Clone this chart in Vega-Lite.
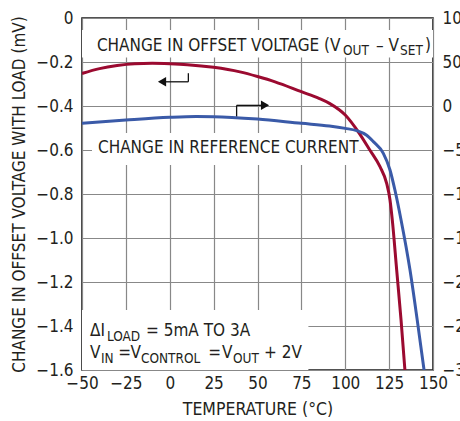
{
  "$schema": "https://vega.github.io/schema/vega-lite/v6.json",
  "width": 351,
  "height": 352,
  "autosize": {"type": "none"},
  "padding": {"left": 82, "top": 18, "right": 27, "bottom": 51},
  "background": "white",
  "config": {
    "view": {"stroke": "#1a1a1a", "strokeWidth": 1.6},
    "font": "'DejaVu Sans Condensed', 'Roboto Condensed', 'Arial Narrow', 'Liberation Sans', sans-serif",
    "axis": {
      "labelFont": "'DejaVu Sans Condensed', 'Roboto Condensed', 'Arial Narrow', 'Liberation Sans', sans-serif",
      "labelFontSize": 17,
      "labelColor": "#231f20",
      "titleFont": "'DejaVu Sans Condensed', 'Roboto Condensed', 'Arial Narrow', 'Liberation Sans', sans-serif",
      "titleFontSize": 17,
      "titleFontWeight": "normal",
      "titleColor": "#231f20",
      "gridColor": "#888888",
      "gridWidth": 1.2,
      "gridOpacity": 1,
      "domain": false,
      "ticks": false,
      "labelFlush": false,
      "labelOverlap": false
    },
    "text": {"font": "'DejaVu Sans Condensed', 'Roboto Condensed', 'Arial Narrow', 'Liberation Sans', sans-serif", "color": "#231f20"}
  },
  "datasets": {
    "offset": [
      {"t": -50, "mv": -0.252},
      {"t": -40, "mv": -0.23},
      {"t": -30, "mv": -0.216},
      {"t": -20, "mv": -0.208},
      {"t": -10, "mv": -0.206},
      {"t": 0, "mv": -0.208},
      {"t": 10, "mv": -0.212},
      {"t": 25, "mv": -0.224},
      {"t": 40, "mv": -0.245},
      {"t": 50, "mv": -0.266},
      {"t": 60, "mv": -0.29},
      {"t": 75, "mv": -0.335},
      {"t": 85, "mv": -0.365},
      {"t": 91, "mv": -0.388},
      {"t": 100, "mv": -0.441},
      {"t": 108, "mv": -0.524},
      {"t": 114, "mv": -0.6},
      {"t": 119.8, "mv": -0.676},
      {"t": 123.6, "mv": -0.752},
      {"t": 125.5, "mv": -0.827},
      {"t": 126.8, "mv": -0.918},
      {"t": 129.3, "mv": -1.145},
      {"t": 131.8, "mv": -1.373},
      {"t": 134, "mv": -1.6}
    ],
    "current": [
      {"t": -50, "ua": -19.7},
      {"t": -25, "ua": -16},
      {"t": 0, "ua": -12.9},
      {"t": 15, "ua": -12},
      {"t": 25, "ua": -12.1},
      {"t": 50, "ua": -14.8},
      {"t": 75, "ua": -19.7},
      {"t": 91, "ua": -22.7},
      {"t": 100, "ua": -25.4},
      {"t": 106.5, "ua": -28},
      {"t": 112, "ua": -33},
      {"t": 116, "ua": -40.5},
      {"t": 121.7, "ua": -53.8},
      {"t": 125.5, "ua": -72.7},
      {"t": 128.3, "ua": -95.5},
      {"t": 131.8, "ua": -129.5},
      {"t": 136.9, "ua": -186.4},
      {"t": 141, "ua": -243},
      {"t": 144.9, "ua": -300}
    ],
    "boxes": [
      {"x1": -50, "x2": 150, "y1": -0.055, "y2": -0.18},
      {"x1": -44.3, "x2": 108, "y1": -0.523, "y2": -0.668},
      {"x1": -50, "x2": 79, "y1": -1.327, "y2": -1.6}
    ],
    "labels": [
      {"t": -41.5, "v": -0.126, "text": "CHANGE IN OFFSET VOLTAGE (V"},
      {"t": 117.5, "v": -0.126, "text": "– V"},
      {"t": 145.4, "v": -0.126, "text": ")"},
      {"t": -40.9, "v": -0.592, "text": "CHANGE IN REFERENCE CURRENT"},
      {"t": -45.4, "v": -1.424, "text": "ΔI"},
      {"t": -13.5, "v": -1.424, "text": "= 5mA TO 3A"},
      {"t": -45.4, "v": -1.523, "text": "V"},
      {"t": -29.3, "v": -1.523, "text": "="},
      {"t": -22.3, "v": -1.523, "text": "V"},
      {"t": 22, "v": -1.523, "text": "="},
      {"t": 29.8, "v": -1.523, "text": "V"},
      {"t": 53.7, "v": -1.523, "text": "+ 2V"}
    ],
    "subs": [
      {"t": 98.7, "v": -0.126, "text": "OUT"},
      {"t": 131.2, "v": -0.126, "text": "SET"},
      {"t": -35.8, "v": -1.424, "text": "LOAD"},
      {"t": -39.2, "v": -1.523, "text": "IN"},
      {"t": -16.4, "v": -1.523, "text": "CONTROL"},
      {"t": 36, "v": -1.523, "text": "OUT"}
    ],
    "brackets": [
      {"x1": 10.6, "x2": 10.6, "y1": -0.251, "y2": -0.29},
      {"x1": 10.6, "x2": -3, "y1": -0.29, "y2": -0.29},
      {"x1": 38.1, "x2": 38.1, "y1": -0.449, "y2": -0.397},
      {"x1": 38.1, "x2": 52, "y1": -0.397, "y2": -0.397}
    ]
  },
  "layer": [
    {
      "layer": [
        {
          "data": {"name": "boxes"},
          "mark": {"type": "rect", "fill": "white"},
          "encoding": {
            "x": {"field": "x1", "type": "quantitative", "scale": {"domain": [-50, 150], "nice": false, "zero": false},
              "axis": {"values": [-50, -25, 0, 25, 50, 75, 100, 125, 150], "grid": true, "labelExpr": "replace(datum.label, '-', '−')", "labelPadding": 5, "title": "TEMPERATURE (°C)", "titleFontSize": 17.5, "titlePadding": 9}},
            "x2": {"field": "x2"},
            "y": {"field": "y1", "type": "quantitative", "scale": {"domain": [-1.6, 0], "nice": false, "zero": false},
              "axis": {"orient": "left", "values": [0, -0.2, -0.4, -0.6, -0.8, -1.0, -1.2, -1.4, -1.6], "grid": true, "labelExpr": "datum.value == 0 ? '0' : replace(format(datum.value, '.1f'), '-', '−')", "labelPadding": 9, "labelBaseline": "middle", "title": "CHANGE IN OFFSET VOLTAGE WITH LOAD (mV)", "titlePadding": 7}},
            "y2": {"field": "y2"}
          }
        },
        {
          "data": {"name": "offset"},
          "mark": {"type": "line", "color": "#9b0a30", "strokeWidth": 3, "interpolate": "monotone", "clip": true},
          "encoding": {
            "x": {"field": "t", "type": "quantitative", "scale": {"domain": [-50, 150], "nice": false, "zero": false},
              "axis": {"values": [-50, -25, 0, 25, 50, 75, 100, 125, 150], "grid": true, "labelExpr": "replace(datum.label, '-', '−')", "labelPadding": 5, "title": "TEMPERATURE (°C)", "titleFontSize": 17.5, "titlePadding": 9}},
            "y": {"field": "mv", "type": "quantitative", "scale": {"domain": [-1.6, 0], "nice": false, "zero": false},
              "axis": {"orient": "left", "values": [0, -0.2, -0.4, -0.6, -0.8, -1.0, -1.2, -1.4, -1.6], "grid": true, "labelExpr": "datum.value == 0 ? '0' : replace(format(datum.value, '.1f'), '-', '−')", "labelPadding": 9, "labelBaseline": "middle", "title": "CHANGE IN OFFSET VOLTAGE WITH LOAD (mV)", "titlePadding": 7}}
          }
        },
        {
          "data": {"name": "labels"},
          "mark": {"type": "text", "align": "left", "baseline": "middle", "fontSize": 17},
          "encoding": {
            "x": {"field": "t", "type": "quantitative", "scale": {"domain": [-50, 150], "nice": false, "zero": false},
              "axis": {"values": [-50, -25, 0, 25, 50, 75, 100, 125, 150], "grid": true, "labelExpr": "replace(datum.label, '-', '−')", "labelPadding": 5, "title": "TEMPERATURE (°C)", "titleFontSize": 17.5, "titlePadding": 9}},
            "y": {"field": "v", "type": "quantitative", "scale": {"domain": [-1.6, 0], "nice": false, "zero": false},
              "axis": {"orient": "left", "values": [0, -0.2, -0.4, -0.6, -0.8, -1.0, -1.2, -1.4, -1.6], "grid": true, "labelExpr": "datum.value == 0 ? '0' : replace(format(datum.value, '.1f'), '-', '−')", "labelPadding": 9, "labelBaseline": "middle", "title": "CHANGE IN OFFSET VOLTAGE WITH LOAD (mV)", "titlePadding": 7}},
            "text": {"field": "text"}
          }
        },
        {
          "data": {"name": "subs"},
          "mark": {"type": "text", "align": "left", "baseline": "middle", "fontSize": 13.5, "dy": 5.5},
          "encoding": {
            "x": {"field": "t", "type": "quantitative", "scale": {"domain": [-50, 150], "nice": false, "zero": false},
              "axis": {"values": [-50, -25, 0, 25, 50, 75, 100, 125, 150], "grid": true, "labelExpr": "replace(datum.label, '-', '−')", "labelPadding": 5, "title": "TEMPERATURE (°C)", "titleFontSize": 17.5, "titlePadding": 9}},
            "y": {"field": "v", "type": "quantitative", "scale": {"domain": [-1.6, 0], "nice": false, "zero": false},
              "axis": {"orient": "left", "values": [0, -0.2, -0.4, -0.6, -0.8, -1.0, -1.2, -1.4, -1.6], "grid": true, "labelExpr": "datum.value == 0 ? '0' : replace(format(datum.value, '.1f'), '-', '−')", "labelPadding": 9, "labelBaseline": "middle", "title": "CHANGE IN OFFSET VOLTAGE WITH LOAD (mV)", "titlePadding": 7}},
            "text": {"field": "text"}
          }
        },
        {
          "data": {"name": "brackets"},
          "mark": {"type": "rule", "color": "#111", "strokeWidth": 1.3},
          "encoding": {
            "x": {"field": "x1", "type": "quantitative", "scale": {"domain": [-50, 150], "nice": false, "zero": false},
              "axis": {"values": [-50, -25, 0, 25, 50, 75, 100, 125, 150], "grid": true, "labelExpr": "replace(datum.label, '-', '−')", "labelPadding": 5, "title": "TEMPERATURE (°C)", "titleFontSize": 17.5, "titlePadding": 9}},
            "x2": {"field": "x2"},
            "y": {"field": "y1", "type": "quantitative", "scale": {"domain": [-1.6, 0], "nice": false, "zero": false},
              "axis": {"orient": "left", "values": [0, -0.2, -0.4, -0.6, -0.8, -1.0, -1.2, -1.4, -1.6], "grid": true, "labelExpr": "datum.value == 0 ? '0' : replace(format(datum.value, '.1f'), '-', '−')", "labelPadding": 9, "labelBaseline": "middle", "title": "CHANGE IN OFFSET VOLTAGE WITH LOAD (mV)", "titlePadding": 7}},
            "y2": {"field": "y2"}
          }
        },
        {
          "data": {"values": [{"t": -4.4, "v": -0.29}]},
          "mark": {"type": "point", "shape": "triangle-left", "filled": true, "color": "#111", "size": 90, "opacity": 1},
          "encoding": {
            "x": {"field": "t", "type": "quantitative", "scale": {"domain": [-50, 150], "nice": false, "zero": false},
              "axis": {"values": [-50, -25, 0, 25, 50, 75, 100, 125, 150], "grid": true, "labelExpr": "replace(datum.label, '-', '−')", "labelPadding": 5, "title": "TEMPERATURE (°C)", "titleFontSize": 17.5, "titlePadding": 9}},
            "y": {"field": "v", "type": "quantitative", "scale": {"domain": [-1.6, 0], "nice": false, "zero": false},
              "axis": {"orient": "left", "values": [0, -0.2, -0.4, -0.6, -0.8, -1.0, -1.2, -1.4, -1.6], "grid": true, "labelExpr": "datum.value == 0 ? '0' : replace(format(datum.value, '.1f'), '-', '−')", "labelPadding": 9, "labelBaseline": "middle", "title": "CHANGE IN OFFSET VOLTAGE WITH LOAD (mV)", "titlePadding": 7}}
          }
        },
        {
          "data": {"values": [{"t": 54.3, "v": -0.397}]},
          "mark": {"type": "point", "shape": "triangle-right", "filled": true, "color": "#111", "size": 90, "opacity": 1},
          "encoding": {
            "x": {"field": "t", "type": "quantitative", "scale": {"domain": [-50, 150], "nice": false, "zero": false},
              "axis": {"values": [-50, -25, 0, 25, 50, 75, 100, 125, 150], "grid": true, "labelExpr": "replace(datum.label, '-', '−')", "labelPadding": 5, "title": "TEMPERATURE (°C)", "titleFontSize": 17.5, "titlePadding": 9}},
            "y": {"field": "v", "type": "quantitative", "scale": {"domain": [-1.6, 0], "nice": false, "zero": false},
              "axis": {"orient": "left", "values": [0, -0.2, -0.4, -0.6, -0.8, -1.0, -1.2, -1.4, -1.6], "grid": true, "labelExpr": "datum.value == 0 ? '0' : replace(format(datum.value, '.1f'), '-', '−')", "labelPadding": 9, "labelBaseline": "middle", "title": "CHANGE IN OFFSET VOLTAGE WITH LOAD (mV)", "titlePadding": 7}}
          }
        }
      ]
    },
    {
      "data": {"name": "current"},
      "mark": {"type": "line", "color": "#3a5aa8", "strokeWidth": 3, "interpolate": "monotone", "clip": true},
      "encoding": {
        "x": {"field": "t", "type": "quantitative", "scale": {"domain": [-50, 150], "nice": false, "zero": false},
          "axis": {"values": [-50, -25, 0, 25, 50, 75, 100, 125, 150], "grid": true, "labelExpr": "replace(datum.label, '-', '−')", "labelPadding": 5, "title": "TEMPERATURE (°C)", "titleFontSize": 17.5, "titlePadding": 9}},
        "y": {
          "field": "ua", "type": "quantitative",
          "scale": {"domain": [-300, 100], "nice": false, "zero": false},
          "axis": {"orient": "right", "values": [100, 50, 0, -50, -100, -150, -200, -250, -300], "grid": false, "labelExpr": "replace(datum.label, '-', '−')", "labelPadding": 9, "labelBaseline": "middle", "title": null}
        }
      }
    }
  ],
  "resolve": {"scale": {"y": "independent"}}
}
